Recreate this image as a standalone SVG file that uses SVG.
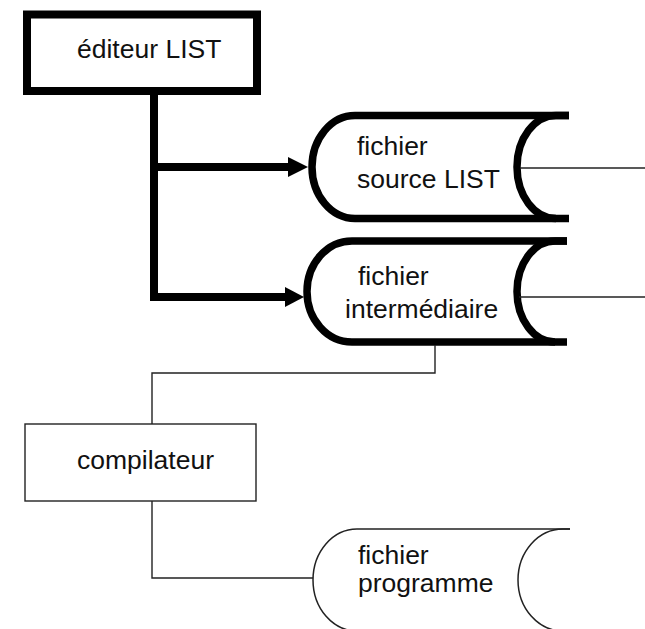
<svg xmlns="http://www.w3.org/2000/svg" width="645" height="629" viewBox="0 0 645 629">
  <defs>
    <style>
      .bg { fill: #ffffff; }
      .label { font-family: "Liberation Sans", Arial, sans-serif; font-size: 26.5px; fill: #111111; }
      .thick { fill: none; stroke: #000000; stroke-width: 8; stroke-linejoin: miter; }
      .thin { fill: none; stroke: #222222; stroke-width: 1.4; }
      .box-thick { fill: #ffffff; stroke: #000000; stroke-width: 8; }
      .box-thin { fill: #ffffff; stroke: #222222; stroke-width: 1.4; }
      .file-thick { fill: #ffffff; stroke: #000000; stroke-width: 7.5; }
      .arc-thick { fill: none; stroke: #000000; stroke-width: 7.5; }
      .file-thin { fill: none; stroke: #222222; stroke-width: 1.5; }
      .head { fill: #000000; }
    </style>
  </defs>

  <rect class="bg" x="0" y="0" width="645" height="629"/>

  <!-- editor node -->
  <g id="editeur">
    <rect class="box-thick" x="27" y="14.5" width="230" height="76.5"/>
    <text class="label" x="77" y="58">éditeur LIST</text>
  </g>

  <!-- source file: rounded left side, concave right side -->
  <g id="fichier-source">
    <path class="file-thick" d="M569,115.5 L355,115.5 A43,51.5 0 0 0 355,218.5 L569,218.5"/>
    <path class="arc-thick" d="M569,115.5 L556,115.5 A39,51.5 0 0 0 556,218.5"/>
    <text class="label" x="357" y="155">fichier</text>
    <text class="label" x="357" y="188">source LIST</text>
  </g>

  <!-- intermediate file -->
  <g id="fichier-intermediaire">
    <path class="file-thick" d="M567,241 L352,241 A45,50.5 0 0 0 352,342 L567,342"/>
    <path class="arc-thick" d="M567,241 L555,241 A38,50.5 0 0 0 555,342"/>
    <text class="label" x="358" y="285">fichier</text>
    <text class="label" x="345" y="318">intermédiaire</text>
  </g>

  <!-- compiler node -->
  <g id="compilateur">
    <rect class="box-thin" x="25" y="424" width="231" height="77"/>
    <text class="label" x="77" y="469">compilateur</text>
  </g>

  <!-- program file -->
  <g id="fichier-programme">
    <path class="file-thin" d="M570,529 L357,529 A44,51 0 0 0 357,631"/>
    <path class="file-thin" d="M570,529 L563,529 A45,51 0 0 0 563,631"/>
    <text class="label" x="358" y="564">fichier</text>
    <text class="label" x="358" y="592">programme</text>
  </g>

  <!-- connectors -->
  <g id="connectors">
    <!-- editor to both files -->
    <path class="thick" d="M154,91 L154,297 L288,297"/>
    <path class="thick" d="M154,167 L290,167"/>
    <path class="head" d="M288,157 L308,167 L288,177 Z"/>
    <path class="head" d="M285,287 L304,297 L285,307 Z"/>
    <!-- outputs leaving to the right -->
    <path class="thin" d="M520,168 L645,168"/>
    <path class="thin" d="M519,297 L645,297"/>
    <!-- intermediate file to compiler -->
    <path class="thin" d="M435,345 L435,373 L152,373 L152,424"/>
    <!-- compiler to program file -->
    <path class="thin" d="M152,501 L152,578 L313,578"/>
  </g>
</svg>
